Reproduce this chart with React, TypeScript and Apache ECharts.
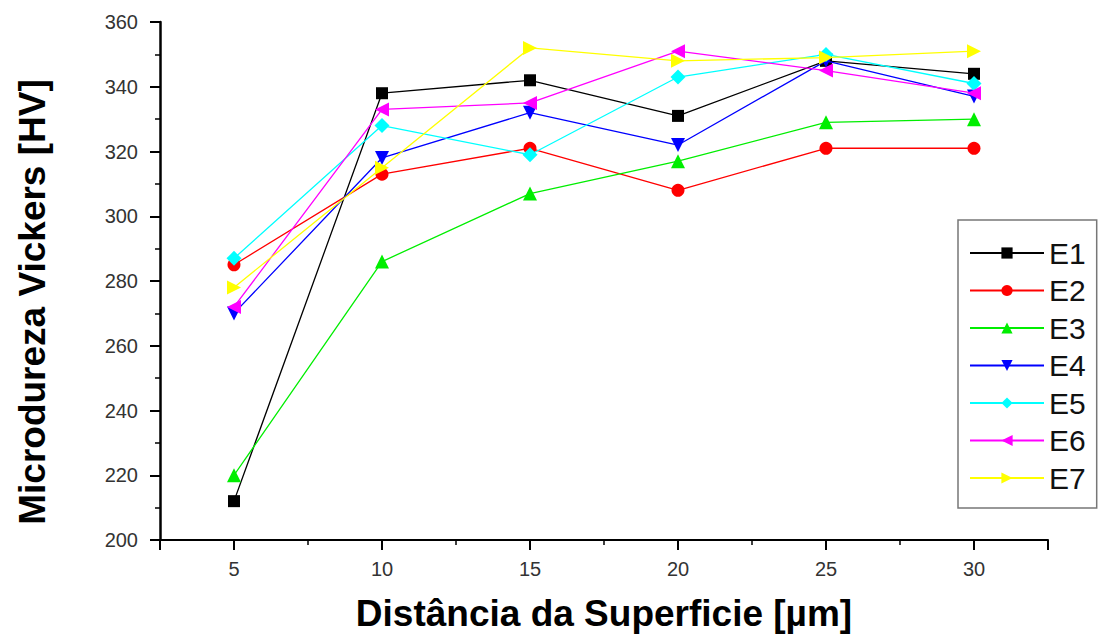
import React, { useEffect, useRef } from "react";
import * as echarts from "echarts";

const distances = [5, 10, 15, 20, 25, 30];
const seriesNames = ["E1", "E2", "E3", "E4", "E5", "E6", "E7"];
const e1 = [212, 338, 342, 331, 348, 344];
const e2 = [285, 313, 321, 308, 321, 321];
const e3 = [220, 286, 307, 317, 329, 330];
const e4 = [270, 318, 332, 322, 348, 337];
const e5 = [287, 328, 319, 343, 350, 341];
const e6 = [272, 333, 335, 351, 345, 338];
const e7 = [278, 315, 352, 348, 349, 351];
const allValues = [e1, e2, e3, e4, e5, e6, e7];

const colors = ["#000000", "#ff0000", "#00ee00", "#0000ff", "#00ffff", "#ff00ff", "#ffff00"];
const symbols = [
  "rect",
  "circle",
  "triangle",
  "path://M0,0 L10,0 L5,9 Z",
  "diamond",
  "path://M9,0 L9,10 L0,5 Z",
  "path://M0,0 L0,10 L9,5 Z",
];
const symbolSizes = [12, 13, 14, 14, 15, 14, 14];

export default function App() {
  const ref = useRef<HTMLDivElement>(null);
  useEffect(() => {
    if (!ref.current) return;
    const chart = echarts.init(ref.current, null, { renderer: "svg" });
    const font = "'Liberation Sans', Arial, sans-serif";
    chart.setOption({
      animation: false,
      backgroundColor: "#ffffff",
      grid: { left: 160, right: 51, top: 22, bottom: 99 },
      legend: {
        orient: "vertical",
        left: 958,
        top: 220,
        padding: [18, 11, 15, 11],
        itemWidth: 74,
        itemHeight: 14,
        itemGap: 7.5,
        borderColor: "#777777",
        borderWidth: 1.5,
        textStyle: { fontSize: 30, color: "#111", fontFamily: font },
        data: seriesNames,
      },
      xAxis: {
        type: "value",
        min: 2.5,
        max: 32.5,
        splitNumber: 6,
        name: "Distância da Superficie [µm]",
        nameLocation: "middle",
        nameGap: 55,
        nameTextStyle: { fontSize: 37, fontWeight: "bold", color: "#000", fontFamily: font },
        axisLine: { lineStyle: { color: "#000", width: 2 } },
        axisTick: { show: true, inside: false, length: 10, lineStyle: { color: "#000", width: 2 } },
        minorTick: { show: true, splitNumber: 2, length: 5, lineStyle: { color: "#000", width: 1.5 } },
        axisLabel: {
          margin: 19,
          fontSize: 20,
          color: "#333",
          fontFamily: font,
          formatter: (v: number) => (v % 5 === 0 ? String(v) : ""),
        },
        splitLine: { show: false },
      },
      yAxis: {
        type: "value",
        min: 200,
        max: 360,
        interval: 20,
        axisLine: { show: true, lineStyle: { color: "#000", width: 2.5 } },
        axisTick: { show: true, inside: false, length: 10, lineStyle: { color: "#000", width: 2 } },
        minorTick: { show: true, splitNumber: 2, length: 5, lineStyle: { color: "#000", width: 1.5 } },
        axisLabel: { margin: 22, fontSize: 20, color: "#333", fontFamily: font },
        splitLine: { show: false },
      },
      graphic: [
        {
          type: "text",
          x: 32,
          y: 302,
          rotation: Math.PI / 2,
          style: {
            text: "Microdureza Vickers [HV]",
            font: `bold 37px ${font}`,
            fill: "#000",
            textAlign: "center",
            textVerticalAlign: "middle",
          },
        },
      ],
      series: seriesNames.map((name, i) => ({
        name,
        type: "line",
        data: distances.map((d, j) => [d, allValues[i][j]]),
        symbol: symbols[i],
        symbolSize: symbolSizes[i],
        itemStyle: { color: colors[i] },
        lineStyle: { color: colors[i], width: 1.3 },
        z: 2 + i,
      })),
    });
    return () => chart.dispose();
  }, []);
  return <div ref={ref} style={{ width: 1099, height: 639, position: "absolute", left: 0, top: 0 }} />;
}
